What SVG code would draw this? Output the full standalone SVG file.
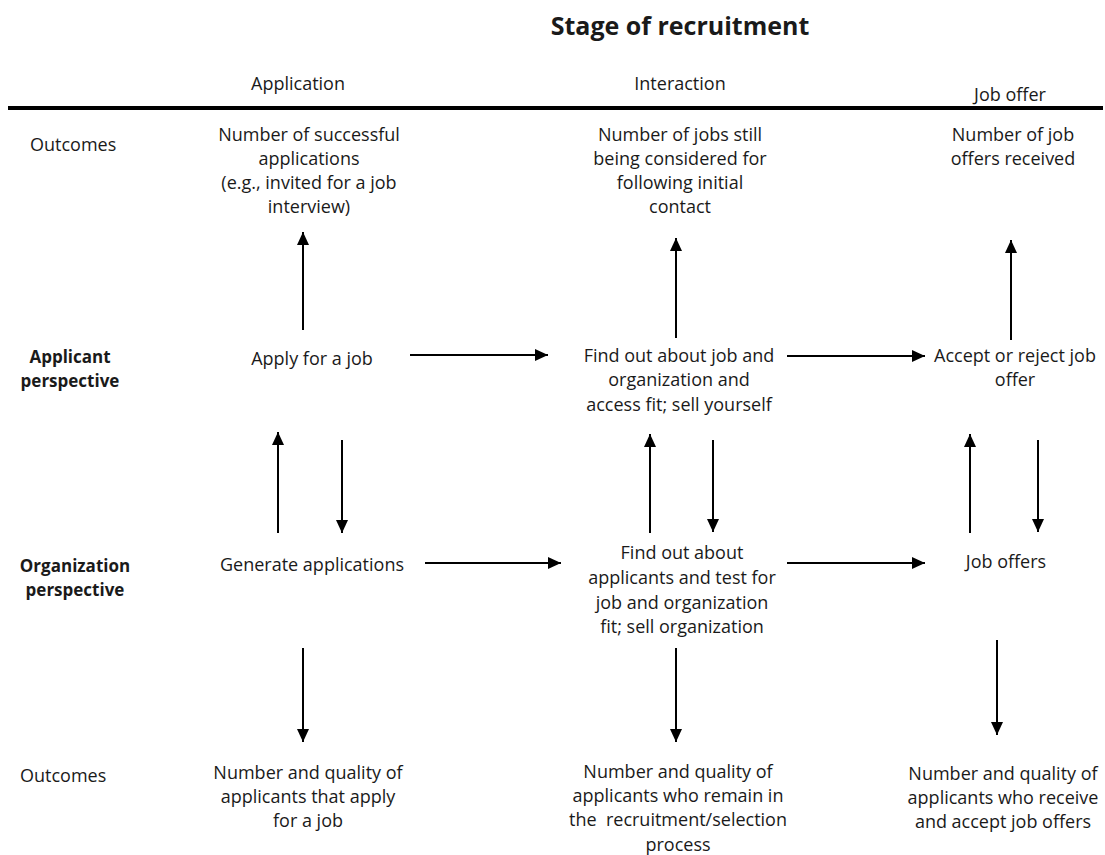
<svg xmlns="http://www.w3.org/2000/svg" width="1105" height="855" viewBox="0 0 1105 855">
  <defs>
    <marker id="arrow" viewBox="0 0 10 10" refX="10" refY="5" markerWidth="6.5" markerHeight="6" markerUnits="strokeWidth" orient="auto" preserveAspectRatio="none">
      <path d="M0,0 L10,5 L0,10 Z" fill="#000"/>
    </marker>
    <filter id="shadow" x="-1%" y="-200%" width="102%" height="500%">
      <feGaussianBlur stdDeviation="1.2"/>
    </filter>
  </defs>
  <style>
    text { font-family: "Open Sans", "Liberation Sans", sans-serif; font-size: 18px; fill: #1a1a1a; }
    .c { text-anchor: middle; }
    .b { font-weight: bold; font-size: 17px; }
    .title { font-size: 25px; font-weight: bold; }
    .conn line { stroke: #000; stroke-width: 2; marker-end: url(#arrow); }
  </style>
  <rect width="1105" height="855" fill="#fff"/>

  <!-- heading and stage labels -->
  <g id="header">
    <text class="c title" x="680" y="35">Stage of recruitment</text>
    <text class="c" x="298" y="90">Application</text>
    <text class="c" x="680" y="90">Interaction</text>
    <text class="c" x="1010" y="101">Job offer</text>
    <line x1="8" y1="111" x2="1103" y2="111" stroke="#999" stroke-width="3" filter="url(#shadow)"/>
    <line x1="8" y1="108" x2="1103" y2="108" stroke="#000" stroke-width="4"/>
  </g>

  <!-- row labels -->
  <g id="row-labels">
    <text x="30" y="151">Outcomes</text>
    <text class="c b" x="70" y="363">Applicant</text>
    <text class="c b" x="70" y="387">perspective</text>
    <text class="c b" x="75" y="572">Organization</text>
    <text class="c b" x="75" y="596">perspective</text>
    <text x="20" y="782">Outcomes</text>
  </g>

  <!-- application stage -->
  <g id="app-outcome-top">
    <text class="c" x="309" y="141">Number of successful</text>
    <text class="c" x="309" y="165">applications</text>
    <text class="c" x="309" y="189">(e.g., invited for a job</text>
    <text class="c" x="309" y="213">interview)</text>
  </g>
  <g id="apply">
    <text class="c" x="312" y="365">Apply for a job</text>
  </g>
  <g id="generate">
    <text class="c" x="312" y="571">Generate applications</text>
  </g>
  <g id="app-outcome-bottom">
    <text class="c" x="308" y="779">Number and quality of</text>
    <text class="c" x="308" y="803">applicants that apply</text>
    <text class="c" x="308" y="827">for a job</text>
  </g>

  <!-- interaction stage -->
  <g id="int-outcome-top">
    <text class="c" x="680" y="141">Number of jobs still</text>
    <text class="c" x="680" y="165">being considered for</text>
    <text class="c" x="680" y="189">following initial</text>
    <text class="c" x="680" y="213">contact</text>
  </g>
  <g id="find-job">
    <text class="c" x="679" y="362">Find out about job and</text>
    <text class="c" x="679" y="386">organization and</text>
    <text class="c" x="679" y="411">access fit; sell yourself</text>
  </g>
  <g id="find-applicants">
    <text class="c" x="682" y="559">Find out about</text>
    <text class="c" x="682" y="584">applicants and test for</text>
    <text class="c" x="682" y="609">job and organization</text>
    <text class="c" x="682" y="633">fit; sell organization</text>
  </g>
  <g id="int-outcome-bottom">
    <text class="c" x="678" y="778">Number and quality of</text>
    <text class="c" x="678" y="802">applicants who remain in</text>
    <text class="c" x="678" y="826" xml:space="preserve">the  recruitment/selection</text>
    <text class="c" x="678" y="851">process</text>
  </g>

  <!-- job offer stage -->
  <g id="offer-outcome-top">
    <text class="c" x="1013" y="141">Number of job</text>
    <text class="c" x="1013" y="165">offers received</text>
  </g>
  <g id="accept">
    <text class="c" x="1015" y="362">Accept or reject job</text>
    <text class="c" x="1015" y="386">offer</text>
  </g>
  <g id="job-offers">
    <text class="c" x="1006" y="568">Job offers</text>
  </g>
  <g id="offer-outcome-bottom">
    <text class="c" x="1003" y="780">Number and quality of</text>
    <text class="c" x="1003" y="804">applicants who receive</text>
    <text class="c" x="1003" y="828">and accept job offers</text>
  </g>

  <!-- connectors -->
  <g id="connectors" class="conn">
    <!-- up to top outcomes -->
    <line x1="303" y1="330" x2="303" y2="232"/>
    <line x1="676" y1="338" x2="676" y2="238"/>
    <line x1="1011" y1="340" x2="1011" y2="240"/>
    <!-- applicant row, left to right -->
    <line x1="410" y1="355" x2="548" y2="355"/>
    <line x1="787" y1="356" x2="925" y2="356"/>
    <!-- between perspectives -->
    <line x1="278" y1="533" x2="278" y2="432"/>
    <line x1="342" y1="440" x2="342" y2="533"/>
    <line x1="650" y1="533" x2="650" y2="434"/>
    <line x1="713" y1="440" x2="713" y2="532"/>
    <line x1="970" y1="533" x2="970" y2="434"/>
    <line x1="1038" y1="440" x2="1038" y2="532"/>
    <!-- organization row, left to right -->
    <line x1="425" y1="563" x2="561" y2="563"/>
    <line x1="787" y1="563" x2="925" y2="563"/>
    <!-- down to bottom outcomes -->
    <line x1="303" y1="648" x2="303" y2="742"/>
    <line x1="676" y1="648" x2="676" y2="742"/>
    <line x1="997" y1="640" x2="997" y2="735"/>
  </g>
</svg>
